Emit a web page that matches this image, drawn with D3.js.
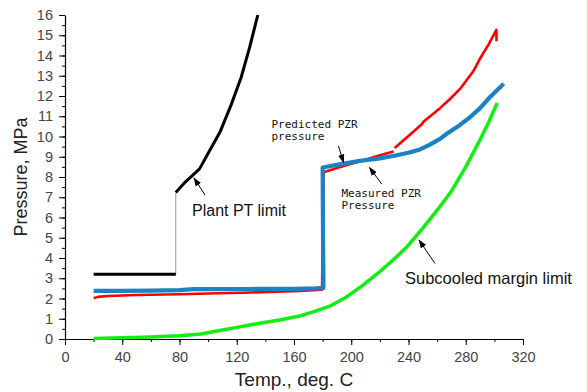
<!DOCTYPE html>
<html><head><meta charset="utf-8">
<script src="https://cdn.jsdelivr.net/npm/d3@7"></script>
<style>
html,body{margin:0;padding:0;background:#fff;}
svg{display:block;}
</style></head>
<body>
<svg id="chart" width="587" height="392"></svg>
<script>
// ---- data (temperature in deg C, pressure in MPa) ----
const xTicks = [0, 40, 80, 120, 160, 200, 240, 280, 320];
const yTicks = [0,1,2,3,4,5,6,7,8,9,10,11,12,13,14,15,16];

const plantLow = [[20,3.2],[77.4,3.2]];
const plantConnector = [[77.4,3.2],[77.4,7.23]];
const plantHigh = [[77.4,7.23],[84,7.75],[94,8.4],[101,9.3],[108.5,10.25],[116,11.55],[123,12.9],[129,14.4],[134.7,16.0]];

const predicted = [[20,2.01],[23,2.08],[30,2.12],[50,2.17],[80,2.21],[100,2.25],[130,2.3],[164,2.37],[179.6,2.44],[180.1,5.5],[180.7,8.24],
  [190,8.45],[200,8.65],[210,8.85],[220,9.07],[229.6,9.26],null,
  [230.3,9.43],[240,10.02],[249.5,10.62],[250.6,10.74],[256,11.05],[262,11.4],[269,11.85],[276,12.35],[285.5,13.25],[290,13.85],[296,14.55],[301.4,15.27],[301.5,14.7]];

const measured = [[20,2.38],[40,2.38],[60,2.39],[80,2.41],[90,2.46],[100,2.46],[130,2.47],[160,2.48],[175,2.5],[180.6,2.52],[180.3,5.0],[180,8.47],
  [190,8.6],[200,8.72],[206,8.8],[220,8.92],[230,9.05],[240,9.2],[248,9.36],[255,9.6],[262,9.88],[267,10.15],[276,10.57],[283,10.95],[290,11.4],[297,11.95],[306.5,12.6]];

const subcooled = [[20,0.03],[40,0.06],[60,0.1],[80,0.16],[95,0.25],[108,0.42],[122,0.6],[136,0.78],[150,0.94],[164,1.14],[174,1.35],[185,1.62],[197,2.09],[208,2.65],[220,3.33],[230,3.95],[239,4.56],[249,5.39],[262,6.54],[270,7.3],[280,8.5],[290,9.84],[296,10.7],[302,11.65]];

// ---- layout ----
const svg = d3.select('#chart');
const L = 65, R = 523, T = 15, B = 339;
const x = d3.scaleLinear().domain([0, 320]).range([L, R]);
const y = d3.scaleLinear().domain([0, 16]).range([B, T]);

const line = d3.line().defined(d => d !== null).x(d => x(d[0])).y(d => y(d[1]));

// axes
const fontAxis = 'Liberation Sans, Arial, sans-serif';
const xMinor = d3.range(0, 321, 20);
const yMinor = d3.range(0, 16.01, 0.5);

svg.append('g').attr('transform', `translate(0,${B})`)
  .call(d3.axisBottom(x).tickValues(xMinor).tickSize(3).tickFormat(''))
  .call(g => g.select('.domain').remove())
  .selectAll('line').attr('stroke', '#000');
svg.append('g').attr('transform', `translate(${L},0)`)
  .call(d3.axisLeft(y).tickValues(yMinor).tickSize(3).tickFormat(''))
  .call(g => g.select('.domain').remove())
  .selectAll('line').attr('stroke', '#000');

const gx = svg.append('g').attr('transform', `translate(0,${B})`)
  .call(d3.axisBottom(x).tickValues(xTicks).tickSize(6).tickPadding(7).tickSizeOuter(0));
const gy = svg.append('g').attr('transform', `translate(${L},0)`)
  .call(d3.axisLeft(y).tickValues(yTicks).tickSize(6).tickPadding(6).tickSizeOuter(0));
[gx, gy].forEach(g => {
  g.select('.domain').attr('stroke', '#000').attr('stroke-width', 1.2);
  g.selectAll('.tick line').attr('stroke', '#000');
  g.selectAll('.tick text').attr('fill', '#444').style('font-family', fontAxis).style('font-size', '14.5px');
});

// axis titles
svg.append('text').attr('x', (L + R) / 2).attr('y', 386)
  .attr('text-anchor', 'middle').attr('fill', '#222')
  .style('font-family', fontAxis).style('font-size', '19px')
  .text('Temp., deg. C');
svg.append('text').attr('transform', `translate(27,${(T + B) / 2}) rotate(-90)`)
  .attr('text-anchor', 'middle').attr('fill', '#222')
  .style('font-family', fontAxis).style('font-size', '18px')
  .text('Pressure, MPa');

// series
svg.append('path').datum(subcooled).attr('d', line)
  .attr('fill', 'none').attr('stroke', '#11ee11').attr('stroke-width', 3.5).attr('stroke-linejoin', 'round');
svg.append('path').datum(plantConnector).attr('d', line)
  .attr('fill', 'none').attr('stroke', '#999').attr('stroke-width', 1);
svg.append('path').datum(plantLow).attr('d', line)
  .attr('fill', 'none').attr('stroke', '#000').attr('stroke-width', 3);
svg.append('path').datum(plantHigh).attr('d', line)
  .attr('fill', 'none').attr('stroke', '#000').attr('stroke-width', 3).attr('stroke-linejoin', 'round');
svg.append('path').datum(predicted).attr('d', line)
  .attr('fill', 'none').attr('stroke', '#ff0000').attr('stroke-width', 2.6).attr('stroke-linejoin', 'round');
svg.append('path').datum(measured).attr('d', line)
  .attr('fill', 'none').attr('stroke', '#1b82c3').attr('stroke-width', 4.2).attr('stroke-linejoin', 'round');

// annotations
const defs = svg.append('defs');
defs.append('marker').attr('id', 'ah').attr('viewBox', '0 0 10 10')
  .attr('refX', 9).attr('refY', 5).attr('markerWidth', 9).attr('markerHeight', 9)
  .attr('markerUnits', 'userSpaceOnUse').attr('orient', 'auto')
  .append('path').attr('d', 'M0,1.5 L10,5 L0,8.5 Z').attr('fill', '#000');

const arrows = [
  [205, 195, 194, 178],
  [338.5, 146, 343.5, 162.5],
  [381.7, 184, 369.5, 167.5],
  [435, 263.5, 419, 240]
];
arrows.forEach(a => {
  svg.append('line').attr('x1', a[0]).attr('y1', a[1]).attr('x2', a[2]).attr('y2', a[3])
    .attr('stroke', '#000').attr('stroke-width', 1).attr('marker-end', 'url(#ah)');
});

const bigFont = 'Liberation Sans, Arial, sans-serif';
const monoFont = 'DejaVu Sans Mono, monospace';
svg.append('text').attr('x', 192).attr('y', 215.5).attr('fill', '#111')
  .style('font-family', bigFont).style('font-size', '16px').text('Plant PT limit');
svg.append('text').attr('x', 405).attr('y', 283.5).attr('fill', '#111')
  .style('font-family', bigFont).style('font-size', '16.5px').text('Subcooled margin limit');

const monoLabel = (lines, x0, y0) => {
  const t = svg.append('text').attr('fill', '#111')
    .style('font-family', monoFont).style('font-size', '11px');
  lines.forEach((s, i) => t.append('tspan').attr('x', x0).attr('y', y0 + i * 12).text(s));
};
monoLabel(['Predicted PZR', 'pressure'], 271.5, 127.5);
monoLabel(['Measured PZR', 'Pressure'], 341.5, 197);
</script>
</body></html>
